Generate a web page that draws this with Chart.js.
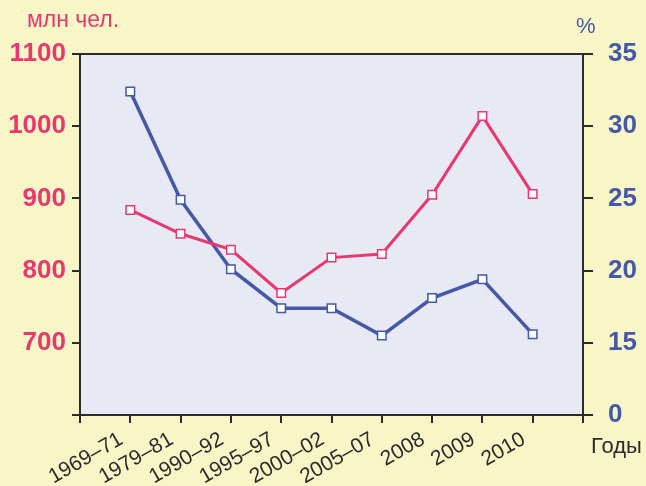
<!DOCTYPE html>
<html>
<head>
<meta charset="utf-8">
<script src="https://cdn.jsdelivr.net/npm/chart.js@4/dist/chart.umd.min.js"></script>
<style>
html, body { margin: 0; padding: 0; background: #f8f5c6; }
#c { display: block; }
</style>
</head>
<body>
<canvas id="c" width="646" height="486" style="width:646px;height:486px"></canvas>
<script>
// periods on the x axis
var years = ['1969\u201371', '1979\u201381', '1990\u201392', '1995\u201397', '2000\u201302', '2005\u201307', '2008', '2009', '2010'];
// million people (left axis)
var people = [884, 851, 829, 769, 818, 823, 905, 1014, 906];
// percent (right axis)
var percent = [32.4, 24.9, 20.1, 17.4, 17.4, 15.5, 18.1, 19.4, 15.6];

var leftLabels = { 700: '700', 800: '800', 900: '900', 1000: '1000', 1100: '1100' };
var rightLabels = { 10: '0', 15: '15', 20: '20', 25: '25', 30: '30', 35: '35' };

var pink = '#e8386f';
var blue = '#4658a8';
var ink = '#2b2b2b';

Chart.defaults.font.family = "'Liberation Sans', Arial, sans-serif";

function pts(arr) {
    var out = [];
    for (var i = 0; i < arr.length; i++) out.push({ x: i + 1, y: arr[i] });
    return out;
}

const paper = {
    id: 'paper',
    beforeDraw(chart) {
        const { ctx, chartArea: { top, bottom, left, right } } = chart;
        ctx.save();
        ctx.fillStyle = '#f8f5c6';
        ctx.fillRect(0, 0, chart.width, chart.height);
        ctx.fillStyle = '#e7e9f4';
        ctx.fillRect(left, top, right - left, bottom - top);
        ctx.strokeStyle = ink;
        ctx.lineWidth = 2;
        ctx.beginPath();
        ctx.moveTo(left, top);
        ctx.lineTo(right, top);
        ctx.stroke();
        ctx.restore();
    },
    afterDraw(chart) {
        const ctx = chart.ctx;
        ctx.save();
        ctx.textBaseline = 'alphabetic';
        ctx.font = "23px 'Liberation Sans', Arial, sans-serif";
        ctx.fillStyle = pink;
        ctx.fillText('млн чел.', 27, 27);
        ctx.font = "22px 'Liberation Sans', Arial, sans-serif";
        ctx.fillStyle = blue;
        ctx.fillText('%', 576, 33);
        ctx.fillStyle = ink;
        ctx.fillText('Годы', 591, 453);
        ctx.restore();
    }
};

new Chart(document.getElementById('c'), {
    type: 'line',
    data: {
        datasets: [{
            data: pts(people),
            yAxisID: 'yL',
            borderColor: pink,
            borderWidth: 3,
            pointStyle: 'rect',
            pointRadius: 6,
            pointBackgroundColor: '#ffffff',
            pointBorderColor: pink,
            pointBorderWidth: 1.5
        }, {
            data: pts(percent),
            yAxisID: 'yR',
            borderColor: blue,
            borderWidth: 3.5,
            pointStyle: 'rect',
            pointRadius: 6,
            pointBackgroundColor: '#ffffff',
            pointBorderColor: blue,
            pointBorderWidth: 1.5
        }]
    },
    options: {
        responsive: false,
        animation: false,
        layout: { padding: { top: 54, right: 0, left: 0, bottom: 0 } },
        plugins: { legend: { display: false }, tooltip: { enabled: false } },
        scales: {
            x: {
                type: 'linear',
                min: 0,
                max: 10,
                afterFit(scale) { scale.height = 71; },
                ticks: {
                    stepSize: 1,
                    autoSkip: false,
                    minRotation: 30,
                    maxRotation: 30,
                    color: ink,
                    font: { size: 21 },
                    padding: 4,
                    labelOffset: -9,
                    callback: function(v) { return years[v - 1] || ''; }
                },
                grid: { drawOnChartArea: false, tickLength: 8, tickColor: ink, lineWidth: 2 },
                border: { color: ink, width: 2 }
            },
            yL: {
                position: 'left',
                min: 600,
                max: 1100,
                afterFit(scale) { scale.width = 80; },
                ticks: {
                    stepSize: 100,
                    color: pink,
                    font: { size: 26, weight: 'bold' },
                    padding: 6,
                    callback: function(v) { return leftLabels[v] || ''; }
                },
                grid: { drawOnChartArea: false, tickLength: 8, tickColor: ink, lineWidth: 2 },
                border: { color: ink, width: 2 }
            },
            yR: {
                position: 'right',
                min: 10,
                max: 35,
                afterFit(scale) { scale.width = 63; },
                ticks: {
                    stepSize: 5,
                    color: blue,
                    font: { size: 26, weight: 'bold' },
                    padding: 15,
                    callback: function(v) { return rightLabels[v] || ''; }
                },
                grid: { drawOnChartArea: false, tickLength: 10, tickColor: ink, lineWidth: 2 },
                border: { color: ink, width: 2 }
            }
        }
    },
    plugins: [paper]
});
</script>
</body>
</html>
